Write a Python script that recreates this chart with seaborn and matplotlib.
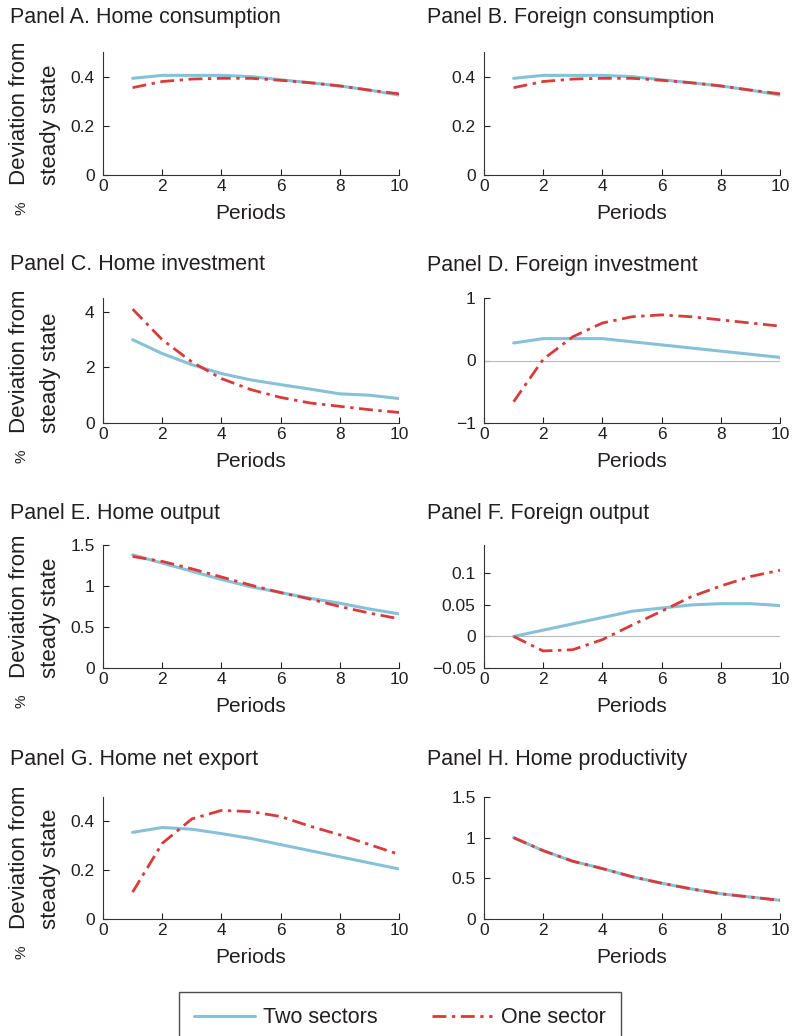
import matplotlib
matplotlib.use("Agg")
import matplotlib.pyplot as plt
from matplotlib.lines import Line2D
import numpy as np
import pandas as pd
import seaborn as sns

periodos = [1, 2, 3, 4, 5, 6, 7, 8, 9, 10]

titulos = ["Panel A. Home consumption", "Panel B. Foreign consumption",
           "Panel C. Home investment", "Panel D. Foreign investment",
           "Panel E. Home output", "Panel F. Foreign output",
           "Panel G. Home net export", "Panel H. Home productivity"]

# dos sectores (línea azul) / un sector (línea roja)
home_cons_dos = [0.393, 0.405, 0.405, 0.405, 0.400, 0.387, 0.375, 0.362, 0.345, 0.325]
home_cons_uno = [0.355, 0.380, 0.390, 0.393, 0.393, 0.385, 0.375, 0.362, 0.345, 0.330]
for_cons_dos = [0.393, 0.405, 0.405, 0.405, 0.400, 0.387, 0.375, 0.362, 0.345, 0.325]
for_cons_uno = [0.355, 0.380, 0.390, 0.393, 0.393, 0.385, 0.375, 0.362, 0.345, 0.330]
home_inv_dos = [3.0, 2.5, 2.1, 1.78, 1.55, 1.38, 1.22, 1.05, 1.0, 0.88]
home_inv_uno = [4.1, 3.0, 2.2, 1.6, 1.2, 0.92, 0.72, 0.6, 0.48, 0.38]
for_inv_dos = [0.28, 0.35, 0.35, 0.35, 0.30, 0.25, 0.20, 0.15, 0.10, 0.05]
for_inv_uno = [-0.66, 0.02, 0.38, 0.60, 0.70, 0.73, 0.70, 0.65, 0.60, 0.55]
home_out_dos = [1.38, 1.28, 1.18, 1.08, 0.99, 0.92, 0.85, 0.79, 0.72, 0.66]
home_out_uno = [1.36, 1.30, 1.21, 1.11, 1.01, 0.92, 0.84, 0.75, 0.67, 0.60]
for_out_dos = [0.0, 0.01, 0.02, 0.03, 0.04, 0.045, 0.05, 0.052, 0.052, 0.049]
for_out_uno = [0.0, -0.023, -0.021, -0.005, 0.018, 0.04, 0.063, 0.08, 0.095, 0.105]
netexp_dos = [0.355, 0.375, 0.368, 0.35, 0.33, 0.305, 0.28, 0.255, 0.23, 0.205]
netexp_uno = [0.11, 0.31, 0.41, 0.445, 0.44, 0.42, 0.38, 0.345, 0.305, 0.265]
prod_dos = [1.0, 0.84, 0.71, 0.62, 0.52, 0.44, 0.37, 0.31, 0.27, 0.23]
prod_uno = [1.0, 0.84, 0.71, 0.62, 0.52, 0.44, 0.37, 0.31, 0.27, 0.23]

series = [(home_cons_dos, home_cons_uno), (for_cons_dos, for_cons_uno),
          (home_inv_dos, home_inv_uno), (for_inv_dos, for_inv_uno),
          (home_out_dos, home_out_uno), (for_out_dos, for_out_uno),
          (netexp_dos, netexp_uno), (prod_dos, prod_uno)]

limites_y = [(0, 0.5), (0, 0.5), (0, 4.5), (-1, 1), (0, 1.5), (-0.05, 0.145), (0, 0.5), (0, 1.5)]
ticks_y = [[0, 0.2, 0.4], [0, 0.2, 0.4], [0, 2, 4], [-1, 0, 1], [0, 0.5, 1, 1.5],
           [-0.05, 0, 0.05, 0.1], [0, 0.2, 0.4], [0, 0.5, 1, 1.5]]
etiquetas_y = [["0", "0.2", "0.4"], ["0", "0.2", "0.4"], ["0", "2", "4"], ["\u22121", "0", "1"],
               ["0", "0.5", "1", "1.5"], ["\u22120.05", "0", "0.05", "0.1"],
               ["0", "0.2", "0.4"], ["0", "0.5", "1", "1.5"]]
linea_cero = [False, False, False, True, False, True, False, False]

sns.set_style("ticks")
plt.rcParams['font.family'] = ['Liberation Sans', 'DejaVu Sans']
gris = "#231F20"
plt.rcParams['text.color'] = gris
plt.rcParams['axes.labelcolor'] = gris
plt.rcParams['xtick.color'] = gris
plt.rcParams['ytick.color'] = gris
plt.rcParams['axes.edgecolor'] = "#333333"

azul = "#86C1D8"
rojo = "#D93A3A"
guion_punto = (5, 2, 1.2, 2)

W, H = 792, 1036
fig = plt.figure(figsize=(W / 100, H / 100), dpi=100)

izq = [103, 484]
ancho = 296
filas = [(52, 175), (298, 423), (545, 668), (797, 919)]
y_titulo = [18, 265, 513, 759]
x_titulo = [10, 427]

for i in range(8):
    fila, col = i // 2, i % 2
    arriba, abajo = filas[fila]
    ax = fig.add_axes([izq[col] / W, 1 - abajo / H, ancho / W, (abajo - arriba) / H])
    dos, uno = series[i]
    if linea_cero[i]:
        ax.axhline(0, color="#BBBBBB", lw=0.8, zorder=1)
    sns.lineplot(x=periodos, y=dos, ax=ax, color=azul, lw=2.2, zorder=2)
    sns.lineplot(x=periodos, y=uno, ax=ax, color=rojo, lw=2.0, dashes=False, zorder=3)
    ax.lines[-1].set_dashes(guion_punto)
    ax.set_xlim(0, 10)
    ax.set_ylim(*limites_y[i])
    ax.set_xticks([0, 2, 4, 6, 8, 10])
    ax.set_yticks(ticks_y[i])
    ax.set_yticklabels(etiquetas_y[i])
    ax.tick_params(direction="in", length=4, labelsize=12.5, width=0.8)
    ax.tick_params(axis="x", pad=3)
    ax.tick_params(axis="y", pad=6)
    sns.despine(ax=ax)
    ax.set_xlabel("Periods", fontsize=15, labelpad=7)
    ax.set_ylabel("")
    fig.text(x_titulo[col] / W, 1 - y_titulo[fila] / H, titulos[i], fontsize=15.5,
             ha="left", va="center")
    if col == 0:
        fig.text(35 / W, 1 - (abajo + 10) / H, "Deviation from\nsteady state",
                 rotation=90, ha="center", va="bottom", fontsize=16, linespacing=1.6,
                 multialignment="left")
        fig.text(21 / W, 1 - (abajo + 33) / H, "%", rotation=90, ha="center",
                 va="center", fontsize=11)

manijas = [Line2D([0], [0], color=azul, lw=2.2),
           Line2D([0], [0], color=rojo, lw=2.0, dashes=guion_punto)]
leg = fig.legend(manijas, ["Two sectors", "One sector"], loc="upper center",
                 bbox_to_anchor=(400 / W, 1 - 992 / H), ncol=2, fontsize=15.5,
                 frameon=True, fancybox=False, edgecolor=gris, handlelength=2.8,
                 columnspacing=2.5, borderpad=0.7, handletextpad=0.4, borderaxespad=0)
leg.get_frame().set_linewidth(1.0)

fig.savefig("out.png", dpi=100)
